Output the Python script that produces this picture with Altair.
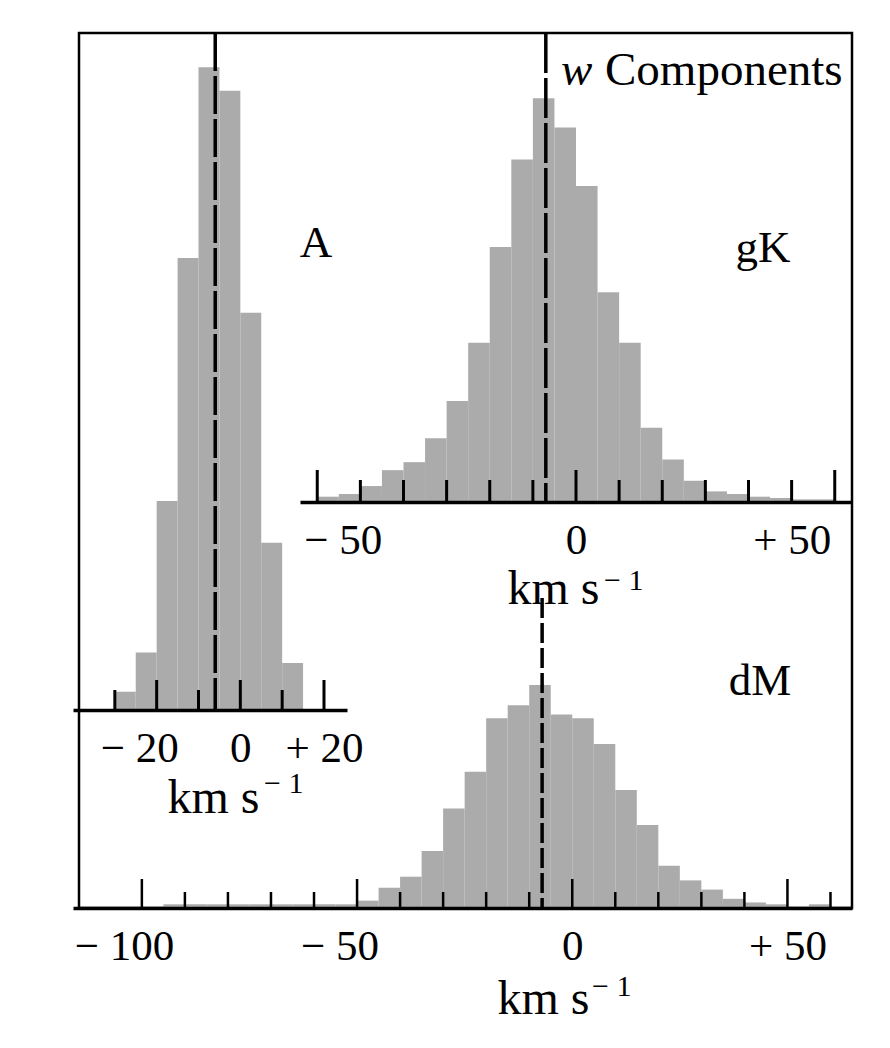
import altair as alt
import pandas as pd

FONT = "Liberation Serif"
GRAY = "#ababab"
BIN = 5  # km/s bin width

# ---- A stars (w components) ----
A_bin_start = [-30, -25, -20, -15, -10, -5, 0, 5, 10]
A_percent = [0.7, 2.2, 8.0, 17.3, 24.6, 23.7, 15.2, 6.4, 1.8]
A_mean = -6
A_labels = [-20, 0, 20]
A_major = [-20, 0, 20]
A_minor = [-30, -10, 10]

# ---- gK stars ----
gK_bin_start = [-60, -55, -50, -45, -40, -35, -30, -25, -20, -15, -10, -5,
                0, 5, 10, 15, 20, 25, 30, 35, 40, 45, 50, 55]
gK_percent = [0.2, 0.3, 0.6, 1.2, 1.5, 2.4, 3.8, 6.0, 9.6, 12.9, 15.2, 14.1,
              11.9, 7.9, 6.0, 2.8, 1.6, 0.8, 0.4, 0.3, 0.2, 0.15, 0.1, 0.1]
gK_mean = -7
gK_labels = [-50, 0, 50]
gK_major = [-60, 0, 60]
gK_minor = [-50, -40, -30, -20, -10, 10, 20, 30, 40, 50]

# ---- dM stars ----
dM_bin_start = [-95, -90, -85, -80, -75, -70, -65, -60, -55, -50, -45, -40,
                -35, -30, -25, -20, -15, -10, -5, 0, 5, 10, 15, 20, 25, 30,
                35, 40, 45, 50, 55]
dM_percent = [0.2, 0.2, 0.2, 0.2, 0.2, 0.2, 0.2, 0.2, 0.2, 0.4, 1.1, 1.7,
              3.1, 5.4, 7.4, 10.3, 11.0, 12.1, 10.5, 10.3, 8.9, 6.4, 4.5,
              2.3, 1.5, 1.0, 0.5, 0.3, 0.2, 0.0, 0.2]
dM_mean = -7
dM_labels = [-100, -50, 0, 50]
dM_major = [-100, -50, 0, 50]
dM_minor = [-90, -80, -70, -60, -40, -30, -20, -10, 10, 20, 30, 40, 60]

W, H = 773, 875
LABEL_SIZE = 43
TITLE = "km s"
SUPER = "\u2212 1"

LABEL_EXPR = ("datum.value > 0 ? '+ ' + datum.value : "
              "(datum.value < 0 ? '\u2212 ' + abs(datum.value) : '0')")
# negative labels: digits centred on the tick, the minus sign hangs to the left
LABEL_ALIGN = {"condition": {"test": "datum.value < 0", "value": "right"},
               "value": "center"}
LABEL_OFFSET = {"condition": [{"test": "datum.value <= -100", "value": 32},
                              {"test": "datum.value < 0", "value": 21.5}],
                "value": 0}


def panel(starts, pct, xdom, xrng, ydom, yrng, base, mean, dash_top, dash,
          labels, major, minor, maj_len, min_len, tick_w, title_x, title_y):
    xs = alt.Scale(domain=xdom, range=xrng, nice=False, zero=False)
    ys = alt.Scale(domain=ydom, range=yrng, nice=False, zero=False)
    df = pd.DataFrame({"start": starts, "pct": pct})
    df["end"] = df["start"] + BIN
    axis = alt.Axis(
        values=labels, labelExpr=LABEL_EXPR, ticks=False, tickSize=0,
        domain=True, domainColor="black", domainWidth=3.5,
        labelFont=FONT, labelFontSize=LABEL_SIZE, labelColor="black",
        labelBaseline="alphabetic", labelPadding=51, labelFlush=False,
        labelOverlap=False, labelAlign=LABEL_ALIGN, labelOffset=LABEL_OFFSET,
        titleFont=FONT, titleFontSize=48,
        titleFontWeight="normal", titleColor="black", titleX=title_x,
        titleY=title_y, titleBaseline="alphabetic", titleAlign="center",
        grid=False, orient="bottom", offset=base - H, zindex=1)
    bars = alt.Chart(df).mark_rect(color=GRAY).encode(
        x=alt.X("start:Q", scale=xs, axis=axis, title=TITLE),
        x2="end:Q",
        y=alt.Y("pct:Q", scale=ys, axis=None),
        y2=alt.datum(0),
    )
    dashed = alt.Chart(pd.DataFrame({"start": [mean]})).mark_rule(
        color="black", strokeWidth=3.5, strokeDash=dash).encode(
        x=alt.X("start:Q", scale=xs, axis=axis, title=TITLE),
        y=alt.value(dash_top), y2=alt.value(base))
    tmaj = alt.Chart(pd.DataFrame({"start": major})).mark_rule(
        color="black", strokeWidth=tick_w).encode(
        x=alt.X("start:Q", scale=xs, axis=axis, title=TITLE),
        y=alt.value(base), y2=alt.value(base - maj_len))
    tmin = alt.Chart(pd.DataFrame({"start": minor})).mark_rule(
        color="black", strokeWidth=tick_w).encode(
        x=alt.X("start:Q", scale=xs, axis=axis, title=TITLE),
        y=alt.value(base), y2=alt.value(base - min_len))
    return alt.layer(bars, dashed, tmaj, tmin)


pA = panel(A_bin_start, A_percent, [-40, 25.5], [-6, 268], [0, 25.91], [677, 0],
           677, A_mean, 0, [38, 5], A_labels, A_major, A_minor, 30, 20, 3, 134, 102)
pG = panel(gK_bin_start, gK_percent, [-64, 64], [221, 773], [0, 17.66], [469, 0],
           469, gK_mean, 0, [40, 5], gK_labels, gK_major, gK_minor, 32, 22, 3, 474, 101)
pD = panel(dM_bin_start, dM_percent, [-116, 65], [-6, 773], [0, 47.5], [875, 0],
           875, dM_mean, 565, [20, 5], dM_labels, dM_major, dM_minor, 29, 16, 2.5, 464, 105)


def label(txt, x, y, size=45, style="normal", align="center"):
    return alt.Chart(pd.DataFrame({"t": [txt]})).mark_text(
        font=FONT, fontSize=size, fontStyle=style, color="black",
        align=align, baseline="alphabetic").encode(
        text="t:N", x=alt.value(x), y=alt.value(y))


texts = [
    label("A", 237, 224),
    label("gK", 684, 229),
    label("dM", 681, 662),
    label("w", 482, 52, size=47, style="italic", align="left"),
    label("Components", 526, 52, size=47, align="left"),
    # superscript "-1" of the km s^-1 unit of each axis title
    label(SUPER, 185, 760, size=30, align="left"),
    label(SUPER, 525, 557, size=30, align="left"),
    label(SUPER, 513, 963, size=30, align="left"),
]

chart = alt.layer(pA, pG, pD, *texts).resolve_scale(
    x="independent", y="independent"
).resolve_axis(
    x="independent", y="independent"
).properties(
    width=W, height=H,
    padding={"left": 71, "top": 25, "right": 30, "bottom": 132},
    autosize=alt.AutoSizeParams(type="none"),
    background="white",
).configure_view(stroke="black", strokeWidth=2.5)

chart.save("out.html", embed_options={"renderer": "svg", "actions": False})
